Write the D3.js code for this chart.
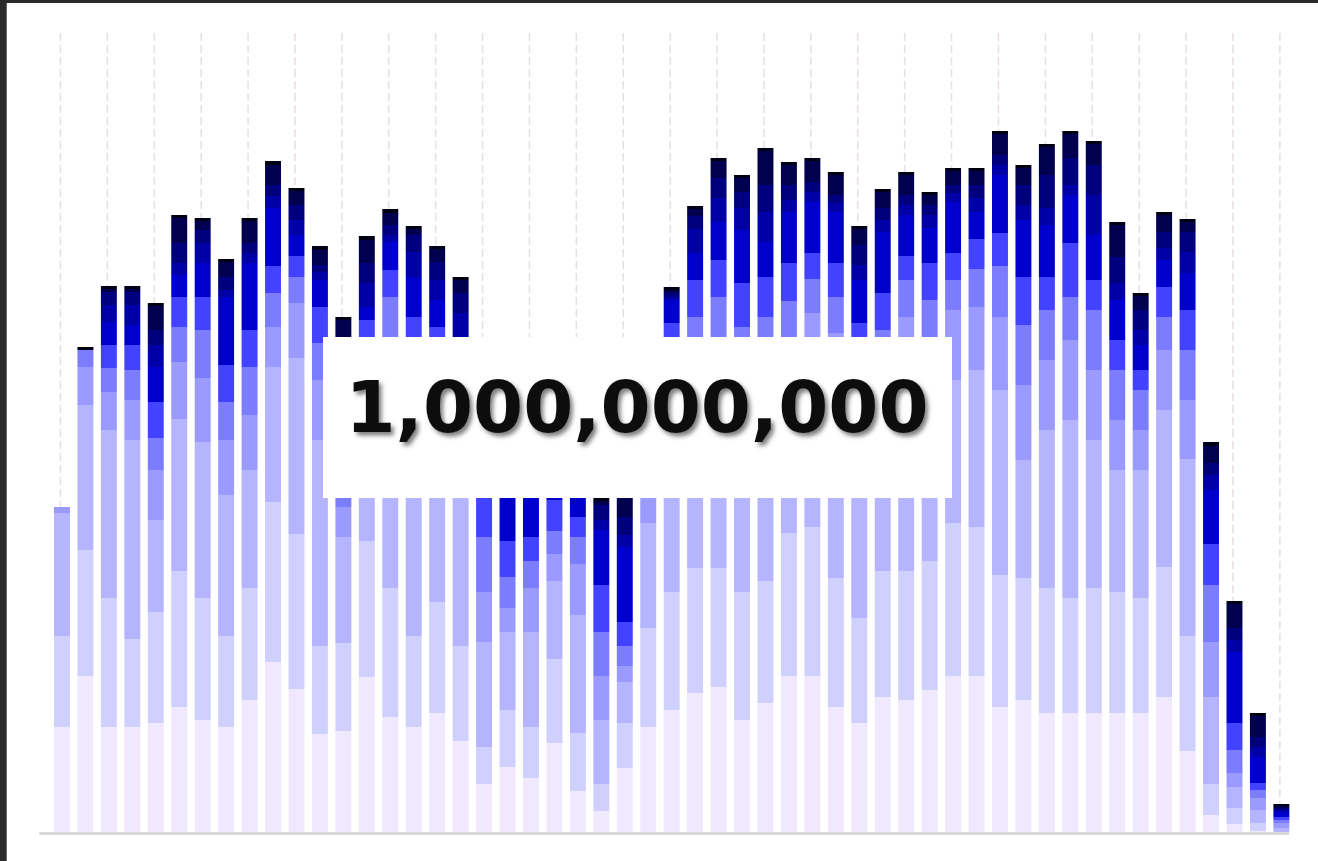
<!DOCTYPE html>
<html>
<head>
<meta charset="utf-8">
<script src="https://cdn.jsdelivr.net/npm/d3@7/dist/d3.min.js"></script>
<style>
  html, body { margin: 0; padding: 0; background: #2a2a2a; overflow: hidden; }
  svg { display: block; }
</style>
</head>
<body>
<div id="graph"></div>
<script>
// Stacked series, bottom layer first (one value per bar)
var lavender = [105,156,105,105,109,125,112,105,132,170,143,98,101,155,115,105,119,91,48,65,54,89,41,21,64,105,122,139,145,112,129,156,156,125,109,135,132,142,156,156,125,132,119,119,119,119,119,135,81,17,8,1,0];
var pale     = [91,126,129,88,111,136,122,91,112,160,155,88,88,136,129,91,111,95,37,57,51,84,58,27,45,99,118,125,119,128,122,143,149,129,105,126,129,129,153,149,132,122,125,115,125,121,115,130,115,31,16,8,0];
var light    = [123,145,168,199,92,152,156,141,118,135,176,206,106,91,158,176,142,166,105,78,95,78,118,64,41,105,122,148,158,152,161,133,147,178,158,141,181,151,143,157,185,118,158,178,148,122,128,157,177,87,21,13,4];
var soft     = [6,38,38,40,50,57,64,55,55,40,55,60,30,50,60,60,50,30,50,24,44,27,51,44,16,33,50,60,60,60,60,50,67,67,50,60,73,60,70,63,73,75,70,80,70,50,40,60,59,55,14,12,5];
var medium   = [0,17,24,30,32,35,48,38,48,34,26,37,37,40,73,40,40,30,55,31,27,23,27,44,20,20,50,43,53,53,43,49,34,36,40,40,37,50,30,38,51,60,50,43,60,50,40,33,50,57,23,8,3];
var bright   = [0,0,23,25,36,30,33,37,37,27,21,36,50,40,27,43,43,40,47,36,24,31,20,47,24,25,47,37,37,44,40,38,26,34,47,37,24,37,27,30,33,48,33,54,30,30,20,30,40,41,27,7,3];
var royal    = [0,0,23,20,35,22,34,68,67,58,21,27,40,13,28,40,27,40,30,81,67,15,37,55,75,25,23,27,38,53,35,51,51,51,43,61,41,35,51,27,58,57,52,48,45,40,25,27,37,54,71,26,5];
var deep     = [0,0,17,20,22,12,20,7,10,12,15,8,20,24,7,25,20,27,30,20,20,15,20,10,12,10,3,24,24,22,30,12,10,9,15,12,10,13,9,14,10,15,17,10,40,17,15,12,21,15,12,10,2];
var navy     = [0,0,13,13,15,20,13,13,10,11,15,7,20,20,10,17,18,20,20,20,20,20,20,15,18,15,4,13,20,16,27,15,10,8,20,12,10,10,8,13,10,20,33,27,30,26,20,16,20,12,12,10,2];
var midnight = [0,0,3,3,24,25,9,15,22,20,14,15,20,23,12,6,13,13,16,16,16,16,16,4,43,11,3,7,17,14,34,20,21,20,16,16,20,10,14,14,21,17,28,24,21,32,14,17,10,17,24,21,2];
var cap      = [0,3,3,3,3,3,3,3,3,4,3,4,3,4,4,3,3,3,4,4,4,4,4,4,4,4,3,3,3,3,3,3,3,3,3,3,3,3,3,3,3,3,3,3,3,3,3,3,3,4,3,3,2];

var layerKeys = ['lavender','pale','light','soft','medium','bright','royal','deep','navy','midnight','cap'];
var layerData = [lavender, pale, light, soft, medium, bright, royal, deep, navy, midnight, cap];
var layerColors = ['#efe8ff','#d0d0ff','#b4b4ff','#9a9aff','#7c7cff','#4242ff','#0000cc','#0000a6','#00007e','#00004e','#000014'];

// Overlay label
var labelText = '1,000,000,000';

// Graph dimensions
var W = 1318, H = 861;
var plot = {left: 50.25, right: 1293.1, top: 32, bottom: 832};

// Table for the stack
var bars = d3.range(lavender.length);
var rows = bars.map(function(i) {
    var r = {bar: i};
    layerKeys.forEach(function(k, j) { r[k] = layerData[j][i]; });
    return r;
});
var series = d3.stack().keys(layerKeys)(rows);

// Set ranges
var x = d3.scaleBand().domain(bars).range([plot.left, plot.right]).paddingInner(0.32).paddingOuter(0.16),
    y = d3.scaleLinear().domain([0, 800]).range([plot.bottom, plot.top]);

var svg = d3.select('#graph')
    .append('svg')
    .attr('width', W)
    .attr('height', H);

var defs = svg.append('defs');
defs.append('filter')
    .attr('id', 'txtShadow')
    .attr('x', '-10%').attr('y', '-20%').attr('width', '120%').attr('height', '150%')
    .append('feDropShadow')
    .attr('dx', 3).attr('dy', 3.5).attr('stdDeviation', 2.2)
    .attr('flood-color', '#000').attr('flood-opacity', 0.5);

// Frame (dark edge top/left)
svg.append('rect').attr('width', W).attr('height', H).attr('fill', '#2a2a2a');
svg.append('rect').attr('x', 6).attr('y', 3).attr('width', W - 6).attr('height', H - 3).attr('fill', '#6a6a6a');
svg.append('rect').attr('x', 7).attr('y', 3).attr('width', W - 7).attr('height', H - 3).attr('fill', '#ffffff');

// Dashed vertical grid, every second bar
svg.append('g')
    .selectAll('line')
    .data(bars.filter(function(i) { return i % 2 === 0; }))
    .enter()
    .append('line')
        .attr('x1', function(d) { return x(d) + x.bandwidth() / 2 - 1.5; })
        .attr('x2', function(d) { return x(d) + x.bandwidth() / 2 - 1.5; })
        .attr('y1', y(800) + 1)
        .attr('y2', y(0))
        .attr('stroke', '#e8dde8')
        .attr('stroke-width', 1.5)
        .attr('stroke-dasharray', '8,4');

// Stacked bars
svg.append('g')
    .selectAll('g')
    .data(series)
    .enter()
    .append('g')
        .attr('fill', function(d, i) { return layerColors[i]; })
    .selectAll('rect')
    .data(function(d) { return d; })
    .enter()
    .append('rect')
        .attr('x', function(d) { return x(d.data.bar); })
        .attr('width', x.bandwidth())
        .attr('y', function(d) { return y(d[1]); })
        .attr('height', function(d) { return y(d[0]) - y(d[1]); });

// Baseline
svg.append('line')
    .attr('x1', plot.left - 11)
    .attr('x2', x(bars[bars.length - 1]) + x.bandwidth())
    .attr('y1', y(0) + 1.5)
    .attr('y2', y(0) + 1.5)
    .attr('stroke', '#d2d2d2')
    .attr('stroke-width', 2.5);

// Label box
svg.append('rect')
    .attr('x', 323).attr('y', 337)
    .attr('width', 629).attr('height', 161)
    .attr('fill', '#ffffff');

svg.append('text')
    .attr('x', 637)
    .attr('y', 432)
    .attr('text-anchor', 'middle')
    .attr('font-family', '"DejaVu Sans", Verdana, sans-serif')
    .attr('font-weight', 'bold')
    .attr('font-size', 72)
    .attr('fill', '#111111')
    .attr('filter', 'url(#txtShadow)')
    .text(labelText);
</script>
</body>
</html>
